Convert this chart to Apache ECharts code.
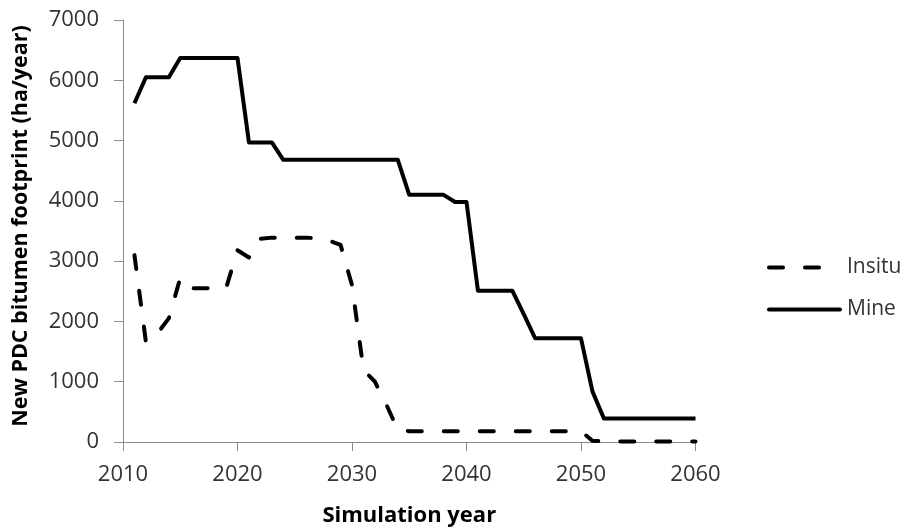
<!DOCTYPE html>
<html>
<head>
<meta charset="utf-8">
<script src="https://cdn.jsdelivr.net/npm/echarts@6/dist/echarts.min.js"></script>
<style>
  html, body { margin: 0; padding: 0; background: #fff; }
  #chart { width: 905px; height: 531px; }
</style>
</head>
<body>
<div id="chart"></div>
<script>
// Simulation years 2011–2060
const years = [];
for (let y = 2011; y <= 2060; y++) years.push(y);

// New in-situ footprint (ha/year), one value per year
const insitu = [
  3100, 1660, 1800, 2050, 2720, 2550, 2550, 2550, 2550, 3180,
  3060, 3370, 3390, 3390, 3390, 3390, 3380, 3340, 3270, 2600,
  1200, 1000, 620, 200, 180, 180, 180, 180, 180, 180,
  180, 180, 180, 180, 180, 180, 180, 180, 180, 180,
  20, 10, 10, 10, 10, 10, 10, 10, 10, 10
];

// New mine footprint (ha/year), one value per year
const mine = [
  5620, 6050, 6050, 6050, 6370, 6370, 6370, 6370, 6370, 6370,
  4970, 4970, 4970, 4680, 4680, 4680, 4680, 4680, 4680, 4680,
  4680, 4680, 4680, 4680, 4100, 4100, 4100, 4100, 3980, 3980,
  2510, 2510, 2510, 2510, 2120, 1720, 1720, 1720, 1720, 1720,
  840, 390, 390, 390, 390, 390, 390, 390, 390, 390
];

const seriesNames = ['Insitu', 'Mine'];
const xTitle = 'Simulation year';
const yTitle = 'New PDC bitumen footprint (ha/year)';

const pairs = (vals) => years.map((y, i) => [y, vals[i]]);

const font = '"Open Sans", "Liberation Sans", sans-serif';
const axisGray = '#8c8c8c';
const labelColor = '#333';

const chart = echarts.init(document.getElementById('chart'), null, { renderer: 'canvas' });
chart.setOption({
  animation: false,
  backgroundColor: '#fff',
  textStyle: { fontFamily: font },
  grid: {
    left: 123, right: 209.5, top: 20, bottom: 89,
    containLabel: false,
    outerBoundsMode: 'none'
  },
  legend: {
    orient: 'vertical',
    left: 767,
    top: 257,
    padding: 0,
    itemWidth: 71,
    itemHeight: 16,
    itemGap: 21,
    data: seriesNames,
    itemStyle: { opacity: 0 },
    lineStyle: { width: 4, color: '#000', cap: 'round' },
    textStyle: { fontFamily: font, fontSize: 21, color: labelColor, padding: [0, 0, 0, 2] }
  },
  xAxis: {
    type: 'value',
    min: 2010,
    max: 2060,
    interval: 10,
    name: xTitle,
    nameLocation: 'middle',
    nameGap: 63,
    nameTextStyle: { fontFamily: font, fontSize: 22, fontWeight: 'bold', color: '#000' },
    axisLine: { show: true, lineStyle: { color: axisGray, width: 1 } },
    axisTick: { show: true, length: 9, lineStyle: { color: axisGray } },
    axisLabel: {
      fontFamily: font, fontSize: 22, color: labelColor, margin: 22,
      formatter: (v) => String(v)
    },
    splitLine: { show: false }
  },
  yAxis: {
    type: 'value',
    min: 0,
    max: 7000,
    interval: 1000,
    name: yTitle,
    nameLocation: 'middle',
    nameGap: 91,
    nameTextStyle: {
      fontFamily: font, fontSize: 21.5, fontWeight: 'bold', color: '#000',
      padding: [0, 0, 0, 10]
    },
    axisLine: { show: true, lineStyle: { color: axisGray, width: 1 } },
    axisTick: { show: true, length: 9, lineStyle: { color: axisGray } },
    axisLabel: {
      fontFamily: font, fontSize: 22, color: labelColor, margin: 24,
      formatter: (v) => String(v)
    },
    splitLine: { show: false }
  },
  series: [
    {
      name: seriesNames[0],
      type: 'line',
      data: pairs(insitu),
      symbol: 'none',
      lineStyle: { color: '#000', width: 4, type: [14, 22], cap: 'round', join: 'round' },
      itemStyle: { color: '#000' }
    },
    {
      name: seriesNames[1],
      type: 'line',
      data: pairs(mine),
      symbol: 'none',
      lineStyle: { color: '#000', width: 4, type: 'solid', join: 'round' },
      itemStyle: { color: '#000' }
    }
  ]
});
</script>
</body>
</html>
